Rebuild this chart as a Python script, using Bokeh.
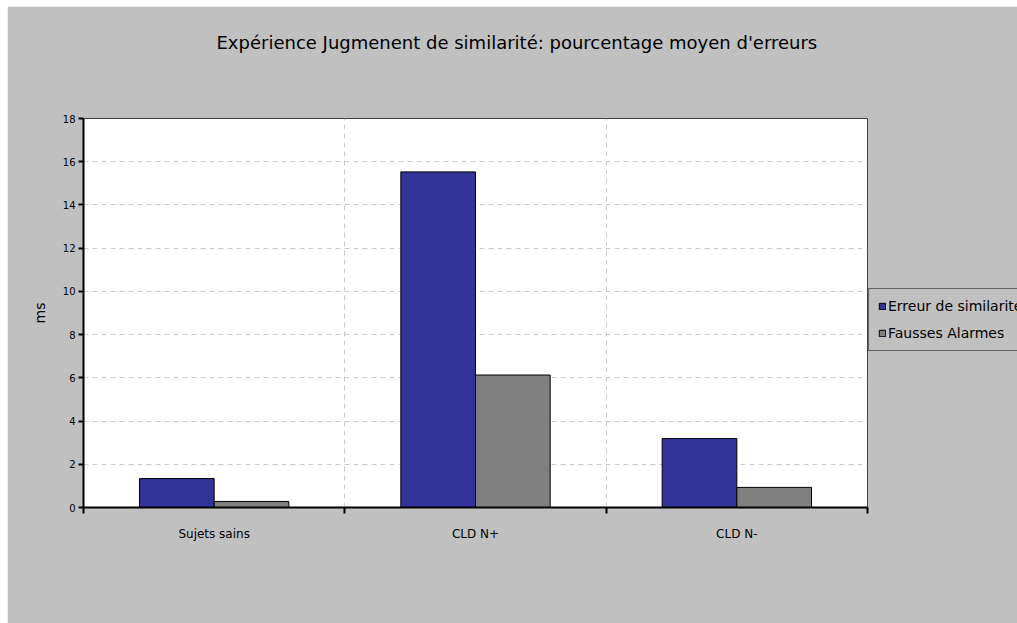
from bokeh.plotting import figure
from bokeh.models import FixedTicker, Legend, LegendItem, ColumnDataSource, Title
from bokeh.embed import file_html
from bokeh.resources import INLINE

categories = ["Sujets sains", "CLD N+", "CLD N-"]
series_names = ["Erreur de similarité", "Fausses Alarmes"]
erreur = [1.34, 15.53, 3.19]
fausses = [0.28, 6.13, 0.93]
y_ticks = [0, 2, 4, 6, 8, 10, 12, 14, 16, 18]

FONT = "DejaVu Sans"
BG = "#c0c0c0"
colors = ["#333399", "#808080"]

p = figure(frame_width=784, frame_height=389, output_backend="svg", toolbar_location=None,
           x_range=(0, 3), y_range=(0, 18),
           min_border_left=76, min_border_right=150, min_border_top=112, min_border_bottom=116)
p.margin = (6, 0, 0, 7)
p.background_fill_color = "white"
p.border_fill_color = BG
p.outline_line_color = "#404040"
p.outline_line_width = 1

bar_w = 1 / 3.5
renderers = []
for k, (vals, col) in enumerate(zip([erreur, fausses], colors)):
    xs = [i + 0.5 + (k - 0.5) * bar_w for i in range(len(categories))]
    src = ColumnDataSource(dict(x=xs, top=vals))
    r = p.vbar(x="x", top="top", width=bar_w, bottom=0, source=src,
               fill_color=col, line_color="black", line_width=1)
    renderers.append(r)

# x axis
xa = p.xaxis[0]
xa.ticker = FixedTicker(ticks=[0.5, 1.5, 2.5], minor_ticks=[0, 1, 2, 3])
xa.major_label_overrides = {0.5: categories[0], 1.5: categories[1], 2.5: categories[2]}
xa.major_tick_out = 0
xa.major_tick_in = 0
xa.minor_tick_out = 6
xa.minor_tick_in = 0
xa.minor_tick_line_color = "black"
xa.minor_tick_line_width = 2
xa.axis_line_color = "black"
xa.axis_line_width = 2
xa.major_label_standoff = 13
xa.major_label_text_font = FONT
xa.major_label_text_font_size = "12px"
xa.major_label_text_color = "black"

# y axis
ya = p.yaxis[0]
ya.ticker = FixedTicker(ticks=y_ticks, minor_ticks=[])
ya.major_tick_out = 5
ya.major_tick_in = 0
ya.major_tick_line_width = 2
ya.major_tick_line_color = "black"
ya.axis_line_color = "black"
ya.axis_line_width = 2
ya.major_label_standoff = 3
ya.major_label_text_font = FONT
ya.major_label_text_font_size = "10px"
ya.major_label_text_color = "black"
ya.axis_label = "ms"
ya.axis_label_text_font = FONT
ya.axis_label_text_font_size = "14px"
ya.axis_label_text_font_style = "normal"
ya.axis_label_text_color = "black"
ya.axis_label_standoff = 12

# grids
p.xgrid.ticker = FixedTicker(ticks=[1, 2])
p.xgrid.grid_line_color = "#c8c8c8"
p.xgrid.grid_line_dash = "5 4"
p.ygrid.ticker = FixedTicker(ticks=y_ticks[1:-1])
p.ygrid.grid_line_color = "#c8c8c8"
p.ygrid.grid_line_dash = "5 4"

# spacer between frame and title
spacer = Title(text=" ", text_font_size="14px", standoff=48)
p.add_layout(spacer, "above")

# title
p.title.text = "Expérience Jugmenent de similarité: pourcentage moyen d'erreurs"
p.title.align = "left"
p.title.offset = 133
p.title.text_font = FONT
p.title.text_font_size = "18px"
p.title.text_font_style = "normal"
p.title.text_color = "black"
p.title.standoff = 0

legend = Legend(items=[LegendItem(label=series_names[i], renderers=[renderers[i]]) for i in range(2)],
                location=(1, 156))
legend.background_fill_color = BG
legend.background_fill_alpha = 1
legend.border_line_color = "black"
legend.border_line_width = 1
legend.label_text_font = FONT
legend.label_text_font_size = "14px"
legend.label_text_color = "black"
legend.glyph_width = 8
legend.glyph_height = 8
legend.label_standoff = 2
legend.padding = 9
legend.spacing = 11
legend.margin = 1
p.add_layout(legend, "right")

open("out.html", "w").write(file_html(p, INLINE))
